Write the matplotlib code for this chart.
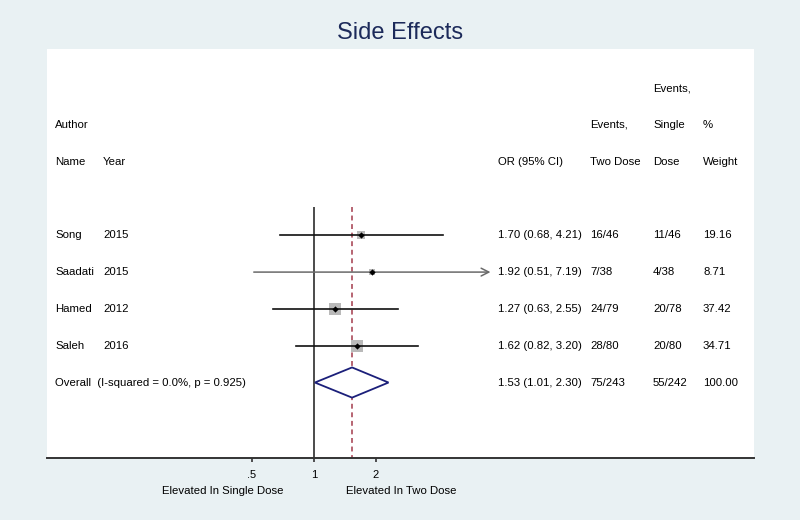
import numpy as np
import matplotlib
matplotlib.use("Agg")
import matplotlib.pyplot as plt
import matplotlib.transforms as mtransforms
from matplotlib.patches import Polygon

plt.rcParams['font.family'] = ['Liberation Sans', 'DejaVu Sans']

# ---- data ----
authors = ["Song", "Saadati", "Hamed", "Saleh"]
years = ["2015", "2015", "2012", "2016"]
odds_ratio = [1.70, 1.92, 1.27, 1.62]
ci_low = [0.68, 0.51, 0.63, 0.82]
ci_high = [4.21, 7.19, 2.55, 3.20]
events_two = ["16/46", "7/38", "24/79", "28/80"]
events_single = ["11/46", "4/38", "20/78", "20/80"]
weights = [19.16, 8.71, 37.42, 34.71]
clipped = [False, True, False, False]

overall_or = 1.53
overall_low = 1.01
overall_high = 2.30
overall_two = "75/243"
overall_single = "55/242"
overall_weight = 100.00
i_squared = 0.0
p_het = 0.925

tick_values = [0.5, 1, 2]
tick_labels = [".5", "1", "2"]

title = "Side Effects"
left_label = "Elevated In Single Dose"
right_label = "Elevated In Two Dose"

# ---- figure ----
W, H = 800, 520
bg = "#e9f1f3"
fig = plt.figure(figsize=(W / 100, H / 100), dpi=100, facecolor=bg)
ax = fig.add_axes([47 / W, 1 - 458 / H, 707 / W, (458 - 49) / H])
ax.set_facecolor("white")

ax.set_xscale("log", base=2)
L, R = -267 / 62, (754 - 314) / 62
ax.set_xlim(2 ** L, 2 ** R)
ax.set_ylim(10.05, -1.06)

for s in ["top", "right", "left"]:
    ax.spines[s].set_visible(False)
ax.spines["bottom"].set_color("#333333")
ax.spines["bottom"].set_linewidth(1.4)
ax.set_yticks([])
ax.set_xticks(tick_values)
ax.set_xticklabels(tick_labels)
ax.xaxis.set_minor_locator(matplotlib.ticker.NullLocator())
ax.tick_params(axis="x", length=3.2, width=1.2, color="#333333", pad=5.5,
               labelsize=8, labelcolor="#000000")

fs = 8.2
txt_col = "#000000"
line_top = 3.23

# null line and overall dashed line
ax.vlines(1, line_top, 10.05, color="#1a1a1a", lw=1.1, zorder=2)
ax.vlines(overall_or, line_top, 10.05, color="#a33a4c", lw=1.1,
          linestyles=(0, (3.2, 2.4)), zorder=2)

rows = [4, 5, 6, 7]
overall_row = 8

for i, r in enumerate(rows):
    side = 2.0 * np.sqrt(weights[i]) * 0.72  # points
    ax.scatter([odds_ratio[i]], [r], marker="s", s=side ** 2, color="#b9b9b9",
               zorder=3, linewidths=0)
    if clipped[i]:
        ax.annotate("", xy=(ci_high[i], r), xytext=(ci_low[i], r),
                    arrowprops=dict(arrowstyle="->,head_length=0.55,head_width=0.28",
                                    color="#6a6a6a", lw=1.1, shrinkA=0, shrinkB=0,
                                    mutation_scale=10), zorder=4)
    else:
        ax.plot([ci_low[i], ci_high[i]], [r, r], color="#111111", lw=1.2, zorder=4)
    ax.plot([odds_ratio[i]], [r], marker="D", markersize=3.2, color="black",
            zorder=5, markeredgewidth=0)

# overall diamond
dh = 0.41
diamond = Polygon([(overall_low, overall_row), (overall_or, overall_row - dh),
                   (overall_high, overall_row), (overall_or, overall_row + dh)],
                  closed=True, facecolor="white", edgecolor="#1b1f7a", lw=1.3, zorder=5)
ax.add_patch(diamond)

# text columns
tr = mtransforms.blended_transform_factory(fig.transFigure, ax.transData)

def put(xpx, row, s, **kw):
    ax.text(xpx / W, row, s, transform=tr, ha="left", va="center", fontsize=fs,
            color=txt_col, clip_on=False, **kw)

# headers
put(55, 1, "Author")
put(55, 2, "Name")
put(103, 2, "Year")
put(498, 2, "OR (95% CI)")
put(590, 1, "Events,")
put(590, 2, "Two Dose")
put(653, 0, "Events,")
put(653, 1, "Single")
put(653, 2, "Dose")
put(703, 1, "%")
put(703, 2, "Weight")

for i, r in enumerate(rows):
    put(55, r, authors[i])
    put(103, r, years[i])
    put(498, r, f"{odds_ratio[i]:.2f} ({ci_low[i]:.2f}, {ci_high[i]:.2f})")
    put(590, r, events_two[i])
    put(653, r, events_single[i])
    put(703, r, f"{weights[i]:.2f}")

put(55, overall_row, f"Overall  (I-squared = {i_squared:.1f}%, p = {p_het:.3f})")
put(498, overall_row, f"{overall_or:.2f} ({overall_low:.2f}, {overall_high:.2f})")
put(590, overall_row, overall_two)
put(653, overall_row, overall_single)
put(703, overall_row, f"{overall_weight:.2f}")

# title and bottom labels
fig.text(0.5, 1 - 33 / H, title, ha="center", va="center", fontsize=17,
         color="#1c2a5a")
fig.text(223 / W, 1 - 491 / H, left_label, ha="center", va="center", fontsize=fs,
         color=txt_col)
fig.text(401 / W, 1 - 491 / H, right_label, ha="center", va="center", fontsize=fs,
         color=txt_col)

fig.savefig("out.png", dpi=100, facecolor=bg)
